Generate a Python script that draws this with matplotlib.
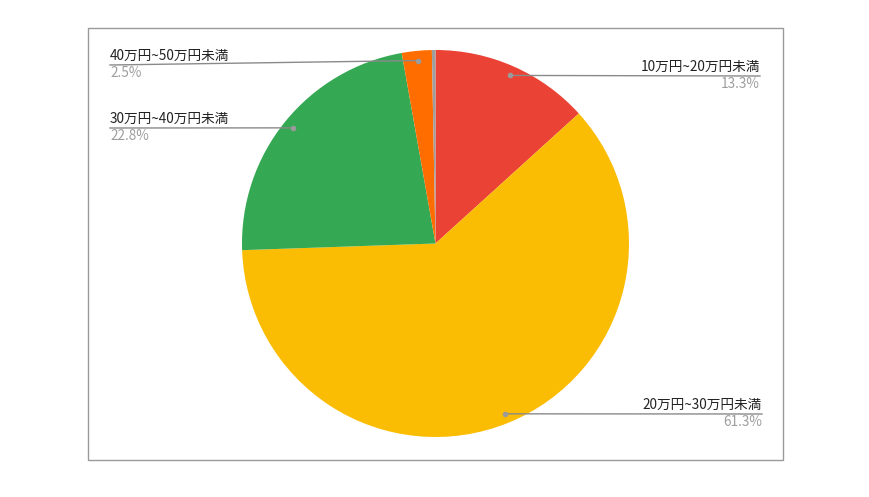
import numpy as np
import matplotlib.pyplot as plt
from matplotlib.patches import Rectangle

plt.rcParams['font.family'] = ['Noto Sans CJK JP', 'DejaVu Sans']

# data
labels = ['10万円~20万円未満', '20万円~30万円未満', '30万円~40万円未満', '40万円~50万円未満', '']
values = [13.3, 61.3, 22.8, 2.5, 0.3]
pct_text = ['13.3%', '61.3%', '22.8%', '2.5%', '']
colors = ['#EA4335', '#FBBC04', '#34A853', '#FF6D01', '#9E9E9E']

W, H = 870, 497
fig = plt.figure(figsize=(W / 100, H / 100), dpi=100)
ax = fig.add_axes([0, 0, 1, 1])

cx, cy, r = 435.5, H - 243.5, 193.5
wedges, _ = ax.pie(values, colors=colors, startangle=90, counterclock=False,
                   center=(cx, cy), radius=r, frame=True)
ax.set_xlim(0, W)
ax.set_ylim(0, H)
ax.axis('off')

# outer border
ax.add_patch(Rectangle((88, H - 460), 783 - 88, 460 - 28, fill=False,
                       edgecolor='#9a9a9a', lw=1))

# label layout: (side, x, line_y from top)
layout = {0: ('right', 760, 76), 1: ('right', 762, 414),
          2: ('left', 110, 128), 3: ('left', 110, 65)}

for i, (side, lx, ly) in layout.items():
    w = wedges[i]
    mid = np.deg2rad((w.theta1 + w.theta2) / 2)
    px = cx + 0.95 * r * np.cos(mid)
    py = cy + 0.95 * r * np.sin(mid)
    yl = H - ly
    ax.plot([px, lx], [py, yl], color='#8a8a8a', lw=1, zorder=3)
    ax.plot(px, py, 'o', color='#9a9a9a', ms=3, zorder=4)
    ha = 'right' if side == 'right' else 'left'
    ax.text(lx, yl + 2, labels[i], ha=ha, va='bottom', fontsize=9.8, color='#222222')
    ax.text(lx, yl - 1, pct_text[i], ha=ha, va='top', fontsize=9.8, color='#9e9e9e')

fig.savefig('out.png', dpi=100)
